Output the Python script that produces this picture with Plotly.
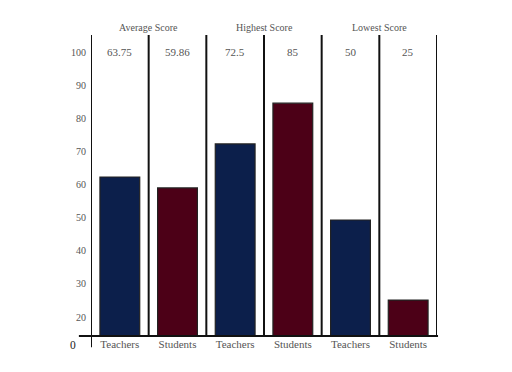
import plotly.graph_objects as go

groups = ["Average Score", "Highest Score", "Lowest Score"]
categories = ["Teachers", "Students", "Teachers", "Students", "Teachers", "Students"]
values = [63.75, 59.86, 72.5, 85, 50, 25]
bar_heights = [62.3, 59.0, 72.3, 84.6, 49.3, 25.1]
colors = ["#0c1f4b", "#4c0017", "#0c1f4b", "#4c0017", "#0c1f4b", "#4c0017"]
y_ticks = [20, 30, 40, 50, 60, 70, 80, 90, 100]
y_min, y_max = 14.26, 105.2

FONT = "Liberation Serif"
TXT = "#555555"

xs = list(range(len(categories)))

fig = go.Figure()
fig.add_trace(go.Bar(
    x=xs, y=[h - y_min for h in bar_heights], base=y_min,
    width=0.69,
    marker=dict(color=colors, line=dict(color="#222222", width=1.2)),
    hoverinfo="skip", showlegend=False,
))

# column separators
for i in range(len(categories) + 1):
    fig.add_shape(type="line", xref="x", yref="paper",
                  x0=i - 0.5, x1=i - 0.5,
                  y0=(-0.037 if i == 0 else 0), y1=1,
                  line=dict(color="#111111", width=2))
# baseline
fig.add_shape(type="line", xref="paper", yref="paper",
              x0=-0.035, x1=1.003, y0=0, y1=0,
              line=dict(color="#111111", width=2))

# value labels at the 100 line
for x, v in zip(xs, values):
    fig.add_annotation(x=x, y=100, xref="x", yref="y", text=f"{v:g}",
                       showarrow=False, font=dict(family=FONT, size=11, color=TXT))
# group headers
for g, name in enumerate(groups):
    fig.add_annotation(x=2 * g + 0.5, y=1, xref="x", yref="paper", text=name,
                       showarrow=False, yanchor="middle", yshift=8,
                       font=dict(family=FONT, size=10, color=TXT))
# zero label
fig.add_annotation(x=0, y=0, xref="paper", yref="paper", text="0",
                   xanchor="right", yanchor="top", xshift=-13, yshift=-1,
                   showarrow=False, font=dict(family=FONT, size=11.5, color="#222"))

fig.update_layout(
    width=512, height=372,
    margin=dict(l=83, r=83, t=27, b=44),
    paper_bgcolor="white", plot_bgcolor="white",
    bargap=0.31,
    xaxis=dict(range=[-0.5, len(categories) - 0.5], tickvals=xs, ticktext=categories,
               showgrid=False, zeroline=False, showline=False, ticks="",
               tickfont=dict(family=FONT, size=11, color=TXT), fixedrange=True),
    yaxis=dict(range=[y_min, y_max], tickvals=y_ticks, ticktext=[str(t) for t in y_ticks],
               showgrid=False, zeroline=False, showline=False, ticks="",
               ticklabelstandoff=4,
               tickfont=dict(family=FONT, size=10, color=TXT), fixedrange=True),
)

fig.write_html("out.html")
